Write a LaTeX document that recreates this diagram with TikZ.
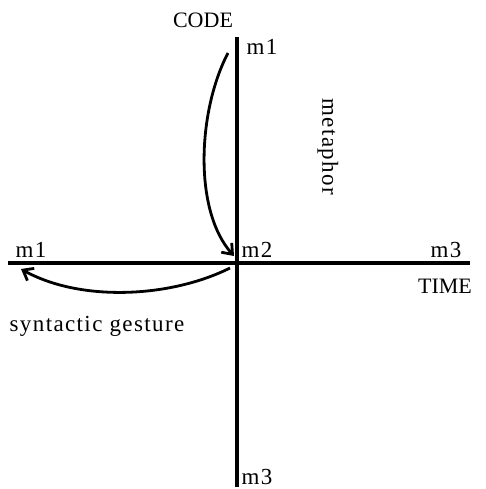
\documentclass[tikz,border=0pt]{standalone}
\usepackage{fontspec}
\setmainfont{Liberation Serif}
\newfontfamily\lowfont[LetterSpace=6]{Liberation Serif}
\usetikzlibrary{arrows.meta}
\begin{document}
\begin{tikzpicture}[x=1pt,y=-1pt,
  axis/.style={line width=3.2pt},
  lbl/.style={inner sep=0pt, font=\fontsize{22}{26}\selectfont},
  low/.style={inner sep=0pt, font=\lowfont\fontsize{23}{27}\selectfont},
  curv/.style={line width=2.8pt, -{Straight Barb[length=9pt,width=14pt,line width=2.8pt]}}]
\useasboundingbox (0,0) rectangle (485,489);
\coordinate (vt) at (237,37);
\coordinate (vb) at (237,487);
\coordinate (hl) at (8,263);
\coordinate (hr) at (470,263);
\draw[axis] (vt) -- (vb);
\draw[axis] (hl) -- (hr);
\node[lbl] (code) at (203,20) {CODE};
\node[low] (m1t) at (262,47) {m1};
\node[low, rotate=-90] (met) at (328,147) {metaphor};
\node[low] (m2) at (257,250) {m2};
\node[low] (m3r) at (446,250) {m3};
\node[lbl] (time) at (445,286) {TIME};
\node[low] (m1l) at (31,250) {m1};
\node[low] (syn) at (97,326) {syntactic gesture};
\node[low] (m3b) at (257,477) {m3};
\coordinate (a1s) at (228,53);
\coordinate (a1e) at (234,256);
\draw[curv] (a1s) .. controls (198,110) and (193,210) .. (a1e);
\coordinate (a2s) at (230,268);
\coordinate (a2e) at (21,269);
\draw[curv] (a2s) .. controls (170,298) and (80,302) .. (a2e);
\end{tikzpicture}
\end{document}
